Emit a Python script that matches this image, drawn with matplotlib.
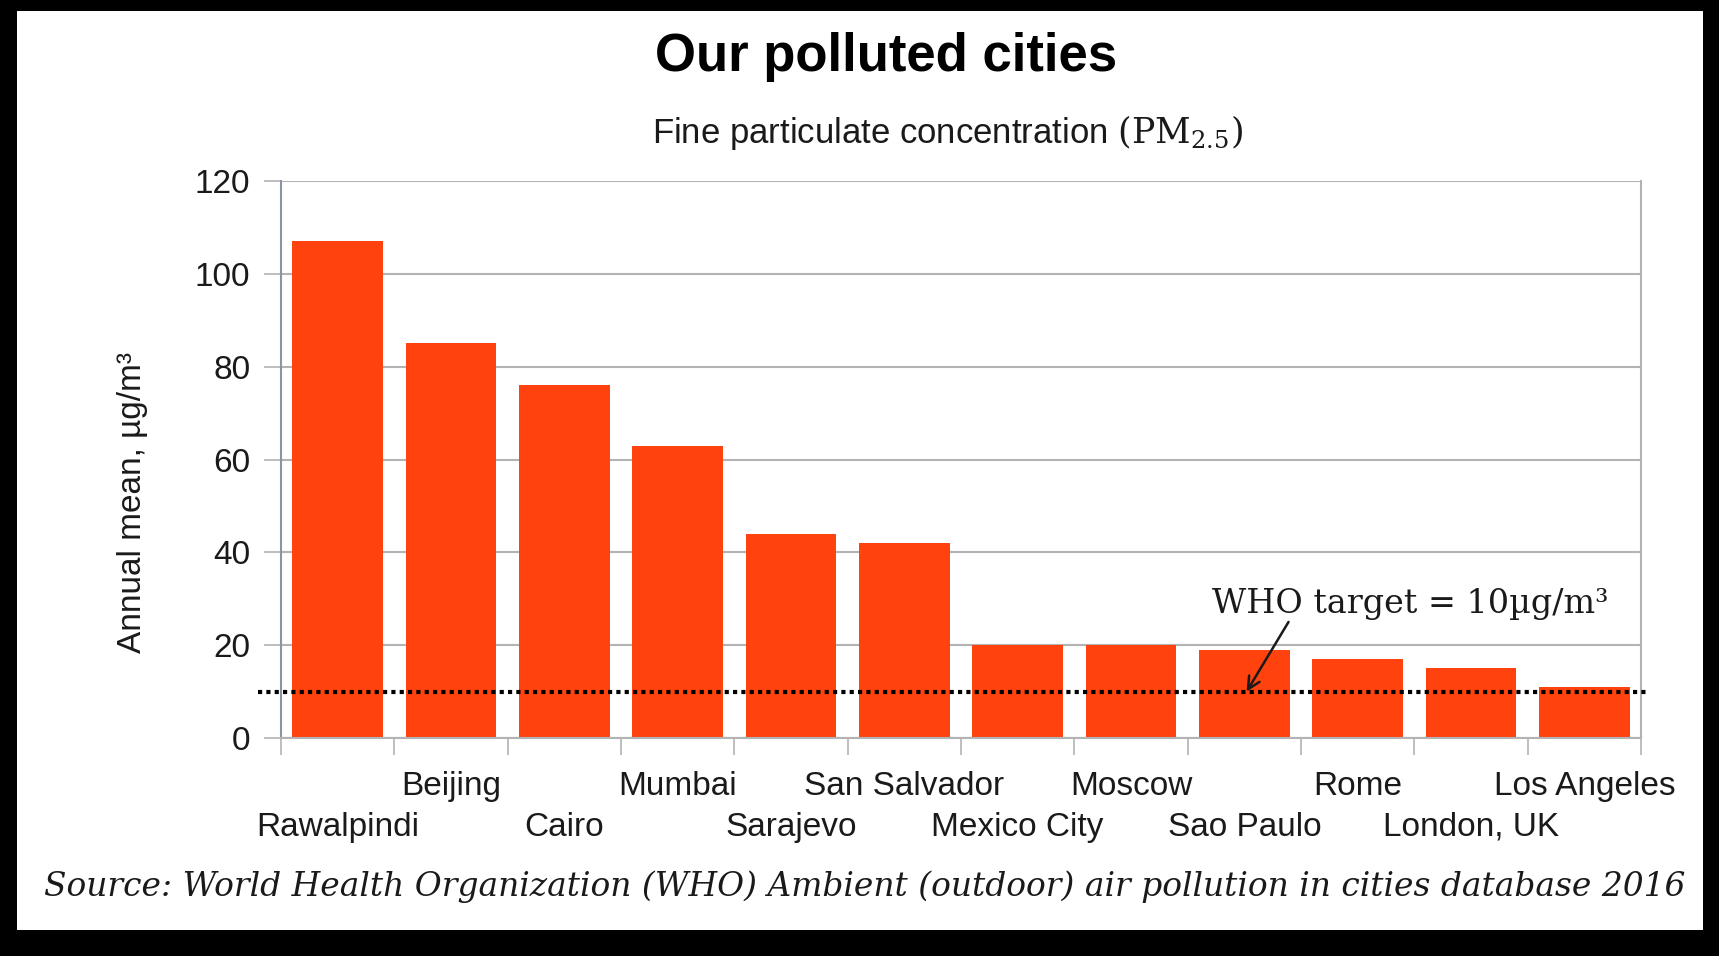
import numpy as np
import matplotlib
matplotlib.use("Agg")
import matplotlib.pyplot as plt
from matplotlib.patches import Rectangle

cities = ["Rawalpindi", "Beijing", "Cairo", "Mumbai", "Sarajevo", "San Salvador",
          "Mexico City", "Moscow", "Sao Paulo", "Rome", "London, UK", "Los Angeles"]
pm25 = [107, 85, 76, 63, 44, 42, 20, 20, 19, 17, 15, 11]
y_ticks = [0, 20, 40, 60, 80, 100, 120]
who_target = 10

plt.rcParams['font.family'] = ['Liberation Sans', 'DejaVu Sans']
plt.rcParams['mathtext.fontset'] = 'dejavuserif'

W, H = 1719, 956
fig = plt.figure(figsize=(W / 100, H / 100), dpi=100, facecolor='black')

# white panel inside the black frame
fig.patches.append(Rectangle((17 / W, 1 - 930 / H), (1703 - 17) / W, (930 - 11) / H,
                             transform=fig.transFigure, facecolor='white',
                             edgecolor='none', zorder=-5))

ax = fig.add_axes([281 / W, 1 - 738 / H, (1641 - 281) / W, (738 - 181) / H])
ax.set_facecolor('white')

x = np.arange(len(cities))
ax.bar(x, pm25, width=0.8, color='#FF420E', zorder=2)

ax.set_xlim(-0.5, len(cities) - 0.5)
ax.set_ylim(0, 120)
ax.set_yticks(y_ticks)
ax.yaxis.grid(True, color='#b3b3b3', linewidth=1.5, zorder=0)
ax.set_axisbelow(True)
ax.tick_params(axis='y', labelsize=24, length=12, width=1.2, color='#b3b3b3',
               pad=10, labelcolor='#1a1a1a')

# staggered city labels: odd ones on the upper row, even ones on a lower row
ax.set_xticks(x[1::2])
ax.set_xticklabels(cities[1::2])
ax.tick_params(axis='x', which='major', length=0, labelsize=24, pad=24,
               labelcolor='#1a1a1a')
ax.set_xticks(np.arange(len(cities) + 1) - 0.5, minor=True)
ax.tick_params(axis='x', which='minor', length=12, width=1.2, color='#b3b3b3')

low = ax.secondary_xaxis('bottom')
low.set_xticks(x[0::2])
low.set_xticklabels(cities[0::2])
low.tick_params(axis='x', length=0, labelsize=24, pad=53, labelcolor='#1a1a1a')
low.spines['bottom'].set_visible(False)

for s in ['bottom', 'right']:
    ax.spines[s].set_color('#b3b3b3')
    ax.spines[s].set_linewidth(1.5)
ax.spines['left'].set_color('#8d93a6')
ax.spines['left'].set_linewidth(1.5)
ax.spines['top'].set_visible(False)

ax.set_ylabel("Annual mean, µg/m³", fontsize=24, color='#1a1a1a')
ax.yaxis.set_label_coords(-0.098, 0.422)

# WHO target line and note
ax.axhline(who_target, xmin=-0.017, xmax=1.006, color='black', linestyle=(0, (1, 1)),
           linewidth=3, clip_on=False, zorder=3)
ax.annotate("", xy=(8.02, who_target), xytext=(8.39, 25),
            arrowprops=dict(arrowstyle='->', color='#1a1a1a', lw=1.8,
                            shrinkA=0, shrinkB=0, mutation_scale=22))
ax.text(9.46, 28.8, "WHO target = 10µg/m³", ha='center', va='center', fontsize=24,
        family='DejaVu Serif', color='#1a1a1a')

fig.text(886 / W, 1 - 57 / H, "Our polluted cities", ha='center', va='center',
         fontsize=38, fontweight='bold', color='black')
fig.text(947 / W, 1 - 133 / H, r"Fine particulate concentration $(\mathrm{PM}_{2.5})$",
         ha='center', va='center', fontsize=25, color='#1a1a1a')
fig.text(44 / W, 1 - 887 / H,
         "Source: World Health Organization (WHO) Ambient (outdoor) air pollution in cities database 2016",
         ha='left', va='center', fontsize=23.7, family='DejaVu Serif', style='italic',
         color='#1a1a1a')

fig.savefig("out.png", dpi=100, facecolor=fig.get_facecolor())
